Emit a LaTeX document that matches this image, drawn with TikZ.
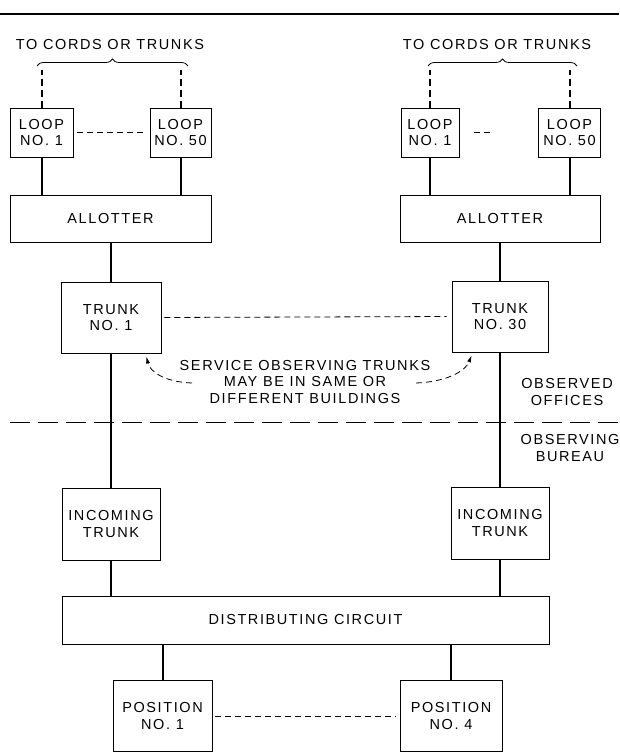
\documentclass[tikz,border=0pt]{standalone}
\usepackage{fontspec}
\setmainfont{Liberation Sans}[LetterSpace=11]
\usetikzlibrary{calc,arrows.meta,decorations.pathreplacing}

\begin{document}
\begin{tikzpicture}[x=1pt,y=-1pt,
    txt/.style={align=center, font=\fontsize{14.5}{16.5}\selectfont},
    box/.style={txt, draw, line width=0.8pt, inner sep=0pt},
    wire/.style={line width=2pt},
    link/.style={line width=0.8pt, dash pattern=on 6pt off 4pt},
    curly/.style={line width=0.8pt, decorate, decoration={brace, amplitude=7pt}}]
    \useasboundingbox (0,0) rectangle (619,752);
    \draw[line width=1.6pt] (0,14) -- (619,14);
    % observed offices, left group
    \node[txt] (corda) at (110,45) {TO CORDS OR TRUNKS};
    \node[box, minimum width=63pt, minimum height=49pt] (loopa1) at (41.5,132.5) {LOOP\\NO. 1};
    \node[box, minimum width=61pt, minimum height=49pt] (loopa50) at (180.5,132.5) {LOOP\\NO. 50};
    \node[box, minimum width=201pt, minimum height=47pt] (allota) at (110.5,218.5) {ALLOTTER};
    \node[box, minimum width=100pt, minimum height=71pt] (trunka) at (111,317.5) {TRUNK\\NO. 1};
    % observed offices, right group
    \node[txt] (cordb) at (497,45) {TO CORDS OR TRUNKS};
    \node[box, minimum width=58pt, minimum height=49pt] (loopb1) at (430,132.5) {LOOP\\NO. 1};
    \node[box, minimum width=62pt, minimum height=49pt] (loopb50) at (569.5,132.5) {LOOP\\NO. 50};
    \node[box, minimum width=200pt, minimum height=47pt] (allotb) at (500,218.5) {ALLOTTER};
    \node[box, minimum width=96pt, minimum height=71pt] (trunkb) at (500,316.5) {TRUNK\\NO. 30};
    % observing bureau
    \node[box, minimum width=98pt, minimum height=72pt] (inca) at (111,524) {INCOMING\\TRUNK};
    \node[box, minimum width=98pt, minimum height=72pt] (incb) at (500,523) {INCOMING\\TRUNK};
    \node[box, minimum width=487pt, minimum height=48pt] (dist) at (305.5,620) {DISTRIBUTING CIRCUIT};
    \node[box, minimum width=99pt, minimum height=71pt] (posa) at (162.5,716) {POSITION\\NO. 1};
    \node[box, minimum width=102pt, minimum height=71pt] (posb) at (451,716) {POSITION\\NO. 4};
    \node[txt] (note) at (305,382) {SERVICE OBSERVING TRUNKS\\MAY BE IN SAME OR\\DIFFERENT BUILDINGS};
    \node[txt] (offices) at (567,392) {OBSERVED\\OFFICES};
    \node[txt] (bureau) at (570,448) {OBSERVING\\BUREAU};
    % braces and cords
    \coordinate (tipa) at (110,70);
    \coordinate (tipb) at (500,70);
    \draw[curly] (37,66) -- (188,66);
    \draw[curly] (428,66) -- (577,66);
    \draw[wire, dash pattern=on 7pt off 4pt] (loopa1.north) -- (loopa1.north |- tipa);
    \draw[wire, dash pattern=on 7pt off 4pt] (loopa50.north) -- (loopa50.north |- tipa);
    \draw[wire, dash pattern=on 7pt off 4pt] (loopb1.north) -- (loopb1.north |- tipb);
    \draw[wire, dash pattern=on 7pt off 4pt] (loopb50.north) -- (loopb50.north |- tipb);
    % solid connectors
    \draw[wire] (loopa1.south) -- (loopa1.south |- allota.north);
    \draw[wire] (loopa50.south) -- (loopa50.south |- allota.north);
    \draw[wire] (loopb1.south) -- (loopb1.south |- allotb.north);
    \draw[wire] (loopb50.south) -- (loopb50.south |- allotb.north);
    \draw[wire] (trunka.north) -- (trunka.north |- allota.south);
    \draw[wire] (trunkb.north) -- (trunkb.north |- allotb.south);
    \draw[wire] (trunka.south) -- (inca.north);
    \draw[wire] (trunkb.south) -- (incb.north);
    \draw[wire] (inca.south) -- (inca.south |- dist.north);
    \draw[wire] (incb.south) -- (incb.south |- dist.north);
    \draw[wire] (posa.north) -- (posa.north |- dist.south);
    \draw[wire] (posb.north) -- (posb.north |- dist.south);
    % dashed links
    \draw[link, shorten <=4pt, shorten >=5pt] (loopa1.east) -- (loopa50.west);
    \draw[link, shorten <=15pt, shorten >=46pt] (loopb1.east) -- (loopb50.west);
    \draw[link, shorten <=3pt, shorten >=5pt] (trunka.east) -- (trunkb.west);
    \draw[link, shorten <=3pt, shorten >=4pt] (posa.east) -- (posb.west);
    \draw[link, -{Latex[length=7pt,width=4pt]}] (192,383) .. controls (165,382) and (150,372) .. ($(trunka.south east)+(-15,3)$);
    \draw[link, -{Latex[length=7pt,width=4pt]}] (416,383) .. controls (445,382) and (465,372) .. ($(trunkb.south west)+(20,3)$);
    % boundary between offices and bureau
    \draw[line width=1pt, dash pattern=on 20pt off 8pt] (10,422) -- (619,422);
\end{tikzpicture}
\end{document}
